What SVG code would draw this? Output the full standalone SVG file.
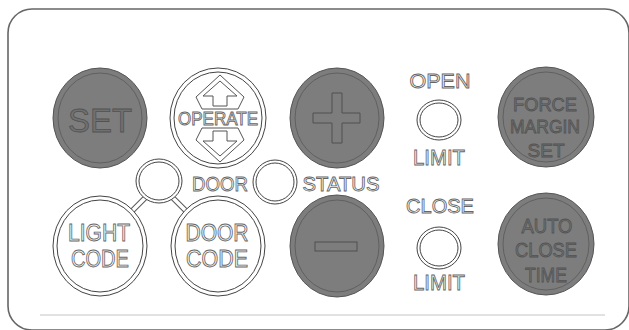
<svg xmlns="http://www.w3.org/2000/svg" width="629" height="330" viewBox="0 0 629 330">
<style>
.frame{fill:#fff;stroke:#666;stroke-width:1.6}
.dark{fill:#7d7d7d;stroke:#555;stroke-width:1}
.dring{fill:none;stroke:#606060;stroke-width:1}
.wbtn{fill:#fff;stroke:#444;stroke-width:1}
.wring{fill:none;stroke:#444;stroke-width:1}
.lt{font-family:"Liberation Sans",Arial,sans-serif;fill:#fff;stroke:#666;stroke-width:0.9;text-anchor:middle}
.dt{font-family:"Liberation Sans",Arial,sans-serif;fill:#707070;stroke:#525252;stroke-width:0.8;text-anchor:middle}
.sym{fill:none;stroke:#505050;stroke-width:1}
.arr{fill:none;stroke:#555;stroke-width:1}
.bar-o{stroke:#555;stroke-width:5.5}
.bar-i{stroke:#fff;stroke-width:3.5}
</style>
<rect class="frame" x="8" y="9" width="621" height="321" rx="24"/>
<line x1="40" y1="315" x2="605" y2="315" stroke="#c4c4c4" stroke-width="1"/>
<g id="connectors">
<line class="bar-o" x1="128" y1="215" x2="147" y2="196"/>
<line class="bar-i" x1="128" y1="215" x2="147" y2="196"/>
<line class="bar-o" x1="171" y1="196" x2="190" y2="215"/>
<line class="bar-i" x1="171" y1="196" x2="190" y2="215"/>
</g>
<g id="set">
<ellipse class="dark" cx="100" cy="118" rx="47" ry="50"/>
<ellipse class="dring" cx="100" cy="118" rx="42" ry="45"/>
<text class="dt" x="100" y="132" font-size="34" textLength="64" lengthAdjust="spacingAndGlyphs">SET</text>
</g>
<g id="operate">
<ellipse class="wbtn" cx="218" cy="118" rx="48" ry="50"/>
<ellipse class="wring" cx="218" cy="118" rx="44" ry="46"/>
<path class="arr" d="M220,75 L244,97 L238,109 L202,109 L196,97 Z"/>
<path class="arr" d="M220,81 L237,96 L227,96 L227,106 L213,106 L213,96 L203,96 Z"/>
<path class="arr" d="M220,162 L244,140 L238,128 L202,128 L196,140 Z"/>
<path class="arr" d="M220,156 L237,141 L227,141 L227,131 L213,131 L213,141 L203,141 Z"/>
<text class="lt" x="218" y="125" font-size="18" textLength="80" lengthAdjust="spacingAndGlyphs">OPERATE</text>
</g>
<g id="plus">
<ellipse class="dark" cx="337" cy="118" rx="47" ry="50"/>
<ellipse class="dring" cx="337" cy="118" rx="42" ry="45"/>
<path class="sym" d="M332,93 H342 V113 H360 V123 H342 V143 H332 V123 H313 V113 H332 Z"/>
</g>
<g id="open-limit">
<text class="lt" x="440" y="88" font-size="21" textLength="61" lengthAdjust="spacingAndGlyphs">OPEN</text>
<ellipse class="wbtn" cx="439" cy="120" rx="22" ry="20"/>
<ellipse class="wring" cx="439" cy="120" rx="19" ry="17"/>
<text class="lt" x="439" y="165" font-size="22" textLength="52" lengthAdjust="spacingAndGlyphs">LIMIT</text>
</g>
<g id="force-margin-set">
<ellipse class="dark" cx="546" cy="117" rx="48" ry="50"/>
<ellipse class="dring" cx="546" cy="117" rx="43" ry="45"/>
<text class="dt" x="545" y="111" font-size="19" textLength="64" lengthAdjust="spacingAndGlyphs">FORCE</text>
<text class="dt" x="545" y="133" font-size="19" textLength="70" lengthAdjust="spacingAndGlyphs">MARGIN</text>
<text class="dt" x="546" y="157" font-size="19" textLength="37" lengthAdjust="spacingAndGlyphs">SET</text>
</g>
<g id="door-led">
<ellipse class="wbtn" cx="159" cy="181" rx="23" ry="22"/>
<ellipse class="wring" cx="159" cy="181" rx="20" ry="19"/>
</g>
<text class="lt" x="220" y="191" font-size="21" textLength="56" lengthAdjust="spacingAndGlyphs">DOOR</text>
<g id="status-led">
<ellipse class="wbtn" cx="275" cy="182" rx="22" ry="22"/>
<ellipse class="wring" cx="275" cy="182" rx="19" ry="19"/>
</g>
<text class="lt" x="341" y="191" font-size="21" textLength="77" lengthAdjust="spacingAndGlyphs">STATUS</text>
<g id="light-code">
<ellipse class="wbtn" cx="100" cy="246" rx="47" ry="50"/>
<ellipse class="wring" cx="100" cy="246" rx="43" ry="46"/>
<text class="lt" x="99" y="241" font-size="23" textLength="62" lengthAdjust="spacingAndGlyphs">LIGHT</text>
<text class="lt" x="100" y="267" font-size="23" textLength="58" lengthAdjust="spacingAndGlyphs">CODE</text>
</g>
<g id="door-code">
<ellipse class="wbtn" cx="218" cy="246" rx="47" ry="50"/>
<ellipse class="wring" cx="218" cy="246" rx="43" ry="46"/>
<text class="lt" x="217" y="241" font-size="23" textLength="63" lengthAdjust="spacingAndGlyphs">DOOR</text>
<text class="lt" x="217" y="267" font-size="23" textLength="62" lengthAdjust="spacingAndGlyphs">CODE</text>
</g>
<g id="minus">
<ellipse class="dark" cx="337" cy="246" rx="47" ry="51"/>
<ellipse class="dring" cx="337" cy="246" rx="42" ry="46"/>
<rect class="sym" x="315" y="242" width="42" height="9"/>
</g>
<g id="close-limit">
<text class="lt" x="440" y="213" font-size="21" textLength="68" lengthAdjust="spacingAndGlyphs">CLOSE</text>
<ellipse class="wbtn" cx="439" cy="248" rx="22" ry="21"/>
<ellipse class="wring" cx="439" cy="248" rx="19" ry="18"/>
<text class="lt" x="439" y="290" font-size="22" textLength="52" lengthAdjust="spacingAndGlyphs">LIMIT</text>
</g>
<g id="auto-close-time">
<ellipse class="dark" cx="546" cy="244" rx="48" ry="51"/>
<ellipse class="dring" cx="546" cy="244" rx="43" ry="46"/>
<text class="dt" x="547" y="233" font-size="21" textLength="51" lengthAdjust="spacingAndGlyphs">AUTO</text>
<text class="dt" x="546" y="257" font-size="21" textLength="62" lengthAdjust="spacingAndGlyphs">CLOSE</text>
<text class="dt" x="546" y="282" font-size="21" textLength="42" lengthAdjust="spacingAndGlyphs">TIME</text>
</g>
</svg>
